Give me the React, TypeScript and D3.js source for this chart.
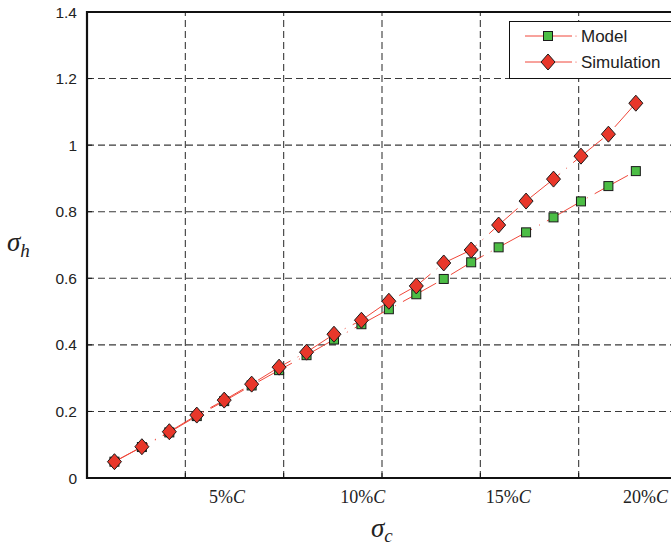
import React from 'react';
import * as d3 from 'd3';

// sigma_c (percent of C) for each sample
const sigmaC = [1, 2, 3, 4, 5, 6, 7, 8, 9, 10, 11, 12, 13, 14, 15, 16, 17, 18, 19, 20];
const model = [0.049, 0.093, 0.137, 0.186, 0.231, 0.278, 0.324, 0.369, 0.416, 0.462,
  0.507, 0.552, 0.598, 0.648, 0.693, 0.738, 0.783, 0.831, 0.877, 0.922];
const simulation = [0.049, 0.094, 0.139, 0.189, 0.234, 0.282, 0.333, 0.378, 0.432, 0.474,
  0.531, 0.577, 0.646, 0.685, 0.76, 0.832, 0.898, 0.967, 1.033, 1.126];

const yTicks = [0, 0.2, 0.4, 0.6, 0.8, 1, 1.2, 1.4];
const xGrid = [0, 1, 2, 3, 4, 5, 6];
// x tick labels and where they sit (in sigma_c units)
const xLabels = ['5%', '10%', '15%', '20%'];
const xLabelAt = [5.1, 10.05, 15.35, 20.35];

const W = 671;
const H = 550;
const margin = { left: 87, top: 12, right: -6, bottom: 72 };

const RED = '#e8372a';
const LINE = '#f0473a';
const GREEN = '#4cbd45';

export default function App() {
  const x = d3.scaleLinear().domain([0, 21.5]).range([margin.left, W - margin.right]);
  const y = d3.scaleLinear().domain([0, 1.4]).range([H - margin.bottom, margin.top]);
  const [x0, x1] = x.range();
  const [y0, y1] = y.range();
  const gridStep = 21.5 / 6;

  const line = d3
    .line<number>()
    .x((_, i) => x(sigmaC[i]))
    .y(d => y(d));

  // dash-dot, like the original
  const dash = '38 8 1 8';
  const diamond = (cx: number, cy: number) =>
    `M${cx},${cy - 8}L${cx + 7},${cy}L${cx},${cy + 8}L${cx - 7},${cy}Z`;

  return (
    <svg width={W} height={H} style={{ position: 'absolute', left: 0, top: 0, background: '#fff' }}>
      {/* grid */}
      <g stroke="#3a3a3a" strokeWidth={1.1} strokeDasharray="7 4" fill="none">
        {yTicks.slice(1, -1).map(t => (
          <line key={'h' + t} x1={x0} x2={x1} y1={y(t)} y2={y(t)} />
        ))}
        {xGrid.slice(1).map(k => (
          <line key={'v' + k} x1={x(k * gridStep)} x2={x(k * gridStep)} y1={y0} y2={y1} />
        ))}
      </g>
      {/* inward ticks */}
      <g stroke="#111" strokeWidth={1}>
        {yTicks.map(t => (
          <line key={'yt' + t} x1={x0} x2={x0 + 5} y1={y(t)} y2={y(t)} />
        ))}
        {xGrid.map(k => (
          <line key={'xt' + k} x1={x(k * gridStep)} x2={x(k * gridStep)} y1={y0} y2={y0 - 5} />
        ))}
      </g>
      {/* frame */}
      <line x1={x0} x2={x1} y1={y1} y2={y1} stroke="#111" strokeWidth={2} />
      <line x1={x0} x2={x1} y1={y0} y2={y0} stroke="#111" strokeWidth={2} />
      <line x1={x0} x2={x0} y1={y1 - 1} y2={y0 + 1} stroke="#111" strokeWidth={2.2} />

      {/* series lines */}
      <path d={line(model) || ''} fill="none" stroke={LINE} strokeWidth={1} strokeDasharray={dash} />
      <path d={line(simulation) || ''} fill="none" stroke={LINE} strokeWidth={1} strokeDasharray={dash} />

      {/* markers */}
      <g fill={GREEN} stroke="#1a1a1a" strokeWidth={1}>
        {model.map((v, i) => (
          <rect key={i} x={x(sigmaC[i]) - 4.5} y={y(v) - 4.5} width={9} height={9} />
        ))}
      </g>
      <g fill={RED} stroke="#1a1a1a" strokeWidth={1}>
        {simulation.map((v, i) => (
          <path key={i} d={diamond(x(sigmaC[i]), y(v))} />
        ))}
      </g>

      {/* y tick labels */}
      <g fontFamily="'Liberation Sans', Arial, sans-serif" fontSize={15.5} fill="#222" textAnchor="end">
        {yTicks.map(t => (
          <text key={t} x={x0 - 10} y={y(t)} dy="0.36em">
            {d3.format('~g')(t)}
          </text>
        ))}
      </g>
      {/* x tick labels */}
      <g fontFamily="'Liberation Serif', 'Times New Roman', serif" fontSize={18} fill="#222" textAnchor="middle">
        {xLabels.map((l, i) => (
          <text key={l} x={x(xLabelAt[i])} y={y0 + 25}>
            {l}
            <tspan fontStyle="italic">C</tspan>
          </text>
        ))}
      </g>

      {/* axis titles */}
      <text x={7} y={251} fontFamily="'Liberation Serif', serif" fontStyle="italic" fontSize={27} fill="#222">
        σ<tspan fontSize={19} dy={6}>h</tspan>
      </text>
      <text x={371} y={537} fontFamily="'Liberation Serif', serif" fontStyle="italic" fontSize={27} fill="#222">
        σ<tspan fontSize={19} dy={5}>c</tspan>
      </text>

      {/* legend */}
      <g>
        <rect x={509.5} y={21.5} width={170} height={57} fill="#fff" stroke="#111" strokeWidth={1} />
        {[
          { name: 'Model', cy: 36 },
          { name: 'Simulation', cy: 62 },
        ].map((d, i) => (
          <g key={d.name}>
            <line x1={525} x2={572} y1={d.cy} y2={d.cy} stroke={LINE} strokeWidth={1} />
            <circle cx={576} cy={d.cy} r={0.6} fill={LINE} />
            {i === 0 ? (
              <rect x={543.5} y={d.cy - 4.5} width={9} height={9} fill={GREEN} stroke="#1a1a1a" />
            ) : (
              <path d={diamond(548, d.cy)} fill={RED} stroke="#1a1a1a" />
            )}
            <text x={581} y={d.cy} dy="0.36em" fontFamily="'Liberation Sans', Arial, sans-serif" fontSize={17} fill="#222">
              {d.name}
            </text>
          </g>
        ))}
      </g>
    </svg>
  );
}
